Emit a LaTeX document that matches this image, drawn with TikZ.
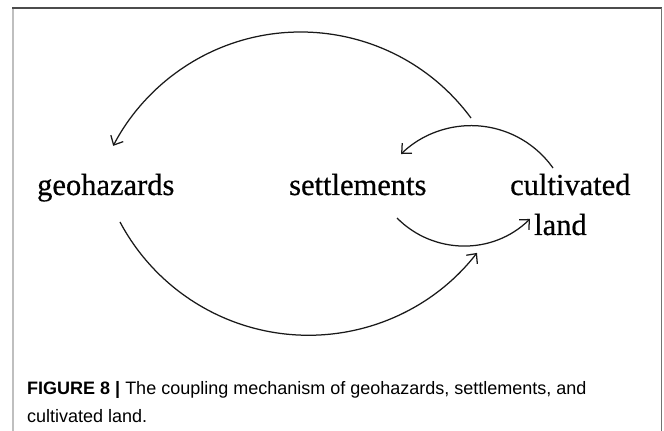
\documentclass[tikz,border=0pt]{standalone}
\usepackage{fontspec}
\setmainfont{Liberation Serif}
\newfontfamily\capfont{Liberation Sans}
\newfontfamily\lblfont[FakeBold=0.6]{Liberation Serif}
\usetikzlibrary{arrows.meta}
\tikzset{
  lbl/.style={anchor=base west, inner sep=0pt, font=\lblfont\fontsize{30.5}{36}\selectfont},
  captext/.style={anchor=base west, inner sep=0pt, font=\capfont\fontsize{18}{22}\selectfont},
  flow/.style={line width=1.25pt, draw=black!90,
    -{Straight Barb[length=7.5pt,width=14pt,line width=1.25pt]}},
  frameL/.style={line width=2pt, draw=black!25},
  frameT/.style={line width=1.5pt, draw=black!70},
  frameR/.style={line width=1pt, draw=black!55}
}
\begin{document}
\begin{tikzpicture}[x=1pt,y=1pt]
\useasboundingbox (0,0) rectangle (664,431);
% frame
\draw[frameL] (12.5,423) -- (12.5,0);
\draw[frameT] (12,423) -- (662,423);
\draw[frameR] (661.5,423) -- (661.5,0);
% labels
\node[lbl] (geo) at (37,236) {geohazards};
\node[lbl] (set) at (289,236) {settlements};
\node[lbl] (cul) at (510,236) {cultivated};
\node[lbl] (lan) at (534,196) {land};
% connector end points
\coordinate (a1) at (471,313);
\coordinate (b1) at (120,209);
\coordinate (c1) at (553,263);
\coordinate (d1) at (397,213);
% connectors
\draw[flow] (a1) arc[start angle=36.4, end angle=152.5, radius=211.5];
\draw[flow] (b1) arc[start angle=208, end angle=322.1, radius=213.5];
\draw[flow] (c1) arc[start angle=35.3, end angle=134.2, radius=100.4];
\draw[flow] (d1) arc[start angle=224.7, end angle=314.5, radius=94.2];
% caption
\node[captext] (cap1) at (27,36) {\textbf{FIGURE 8 |} The coupling mechanism of geohazards, settlements, and};
\node[captext] (cap2) at (27,8.3) {cultivated land.};
\end{tikzpicture}
\end{document}
